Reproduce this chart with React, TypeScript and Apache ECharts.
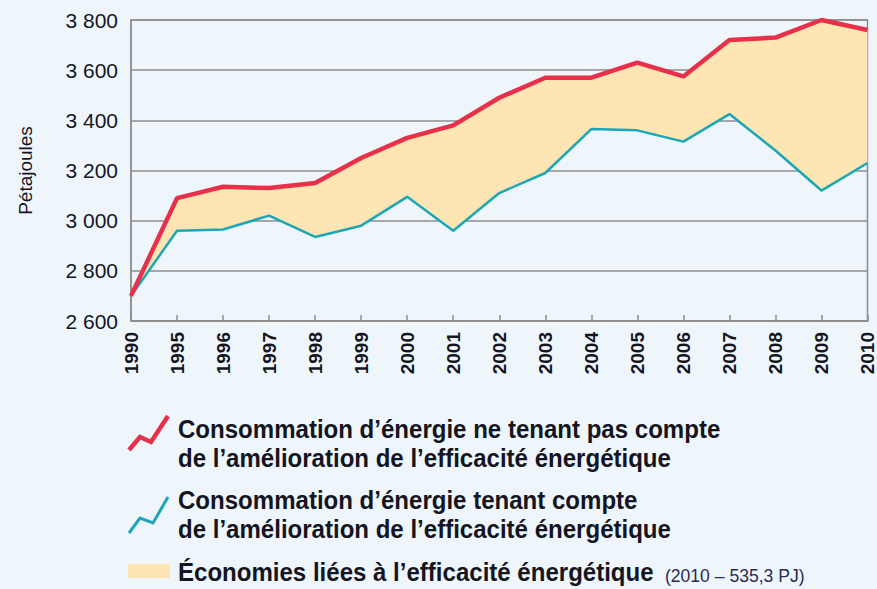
import React, { useEffect, useRef } from "react";
import * as echarts from "echarts";

const years = ["1990", "1995", "1996", "1997", "1998", "1999", "2000", "2001", "2002", "2003", "2004", "2005", "2006", "2007", "2008", "2009", "2010"];
const withoutEfficiency = [2700, 3090, 3135, 3130, 3150, 3250, 3330, 3380, 3490, 3570, 3570, 3630, 3575, 3720, 3730, 3800, 3760];
const withEfficiency = [2700, 2960, 2965, 3020, 2935, 2980, 3095, 2960, 3110, 3190, 3365, 3360, 3315, 3425, 3280, 3120, 3230];
const yTicks = { min: 2600, max: 3800, interval: 200 };

const legendRed = "Consommation d\u2019énergie ne tenant pas compte\nde l\u2019amélioration de l\u2019efficacité énergétique";
const legendTeal = "Consommation d\u2019énergie tenant compte\nde l\u2019amélioration de l\u2019efficacité énergétique";
const legendFill = "Économies liées à l\u2019efficacité énergétique";
const legendFillNote = "(2010 \u2013 535,3 PJ)";

const BG = "#eef6fc";
const RED = "#e8304a";
const TEAL = "#1ca6b6";
const FILL = "#fde6b3";
const GRID = "#8c8c8c";
const TEXT = "#15151f";
const SANS = "'Liberation Sans', Arial, sans-serif";
const SQUEEZE = 0.925;

export default function App() {
  const ref = useRef<HTMLDivElement>(null);
  useEffect(() => {
    document.body.style.margin = "0";
    document.body.style.background = BG;
    const chart = echarts.init(ref.current!, null, { renderer: "svg" });
    const diff = withoutEfficiency.map((v, i) => v - withEfficiency[i]);
    chart.setOption({
      animation: false,
      backgroundColor: BG,
      grid: { left: 131, right: 9, top: 20, bottom: 268, show: true, borderColor: GRID, borderWidth: 1.5, backgroundColor: BG },
      xAxis: {
        type: "category",
        data: years,
        boundaryGap: false,
        axisLine: { lineStyle: { color: GRID, width: 1.5 } },
        axisTick: { show: true, inside: true, length: 6, alignWithLabel: true, lineStyle: { color: GRID, width: 1.5 } },
        axisLabel: { interval: 0, rotate: 90, margin: 11, fontSize: 19, fontWeight: "bold", color: TEXT, fontFamily: SANS },
      },
      yAxis: {
        type: "value",
        min: yTicks.min,
        max: yTicks.max,
        interval: yTicks.interval,
        name: "Pétajoules",
        nameLocation: "middle",
        nameRotate: 90,
        nameGap: 96,
        nameTextStyle: { fontSize: 19, color: TEXT, fontFamily: SANS },
        axisLine: { show: true, lineStyle: { color: GRID, width: 1.5 } },
        axisTick: { show: false },
        splitLine: { lineStyle: { color: GRID, width: 1.5 } },
        axisLabel: {
          margin: 13,
          fontSize: 21,
          color: TEXT,
          fontFamily: SANS,
          formatter: (v: number) => {
            const s = String(v);
            return s.length > 3 ? s.slice(0, s.length - 3) + " " + s.slice(-3) : s;
          },
        },
      },
      series: [
        { type: "line", data: withEfficiency, stack: "band", symbol: "none", lineStyle: { width: 0, opacity: 0 }, silent: true },
        { type: "line", data: diff, stack: "band", symbol: "none", lineStyle: { width: 0, opacity: 0 }, areaStyle: { color: FILL, opacity: 1 }, silent: true },
        { type: "line", data: withEfficiency, symbol: "none", lineStyle: { color: TEAL, width: 2.5 }, z: 3 },
        { type: "line", data: withoutEfficiency, symbol: "none", lineStyle: { color: RED, width: 4.5 }, z: 4 },
      ],
      graphic: [
        { type: "polyline", shape: { points: [[129, 450], [140, 437], [151, 442], [168, 416]] }, style: { stroke: RED, lineWidth: 4.5, fill: null } },
        { type: "text", x: 178, y: 414, scaleX: SQUEEZE, style: { text: legendRed, font: `bold 26px ${SANS}`, fill: TEXT, lineHeight: 29, verticalAlign: "top" } },
        { type: "polyline", shape: { points: [[129, 533], [140, 518], [153, 523], [168, 497]] }, style: { stroke: TEAL, lineWidth: 3, fill: null } },
        { type: "text", x: 178, y: 485, scaleX: SQUEEZE, style: { text: legendTeal, font: `bold 26px ${SANS}`, fill: TEXT, lineHeight: 29, verticalAlign: "top" } },
        { type: "rect", shape: { x: 128, y: 564, width: 42, height: 14 }, style: { fill: FILL } },
        {
          type: "text",
          x: 178,
          y: 559,
          scaleX: SQUEEZE,
          style: {
            text: `{b|${legendFill}}{s|${legendFillNote}}`,
            verticalAlign: "top",
            rich: {
              b: { font: `bold 26px ${SANS}`, fill: TEXT },
              s: { font: `19px ${SANS}`, fill: "#2a2a55", padding: [6, 0, 0, 12] },
            },
          },
        },
      ],
    });
    return () => chart.dispose();
  }, []);
  return <div ref={ref} style={{ width: 877, height: 589 }} />;
}
